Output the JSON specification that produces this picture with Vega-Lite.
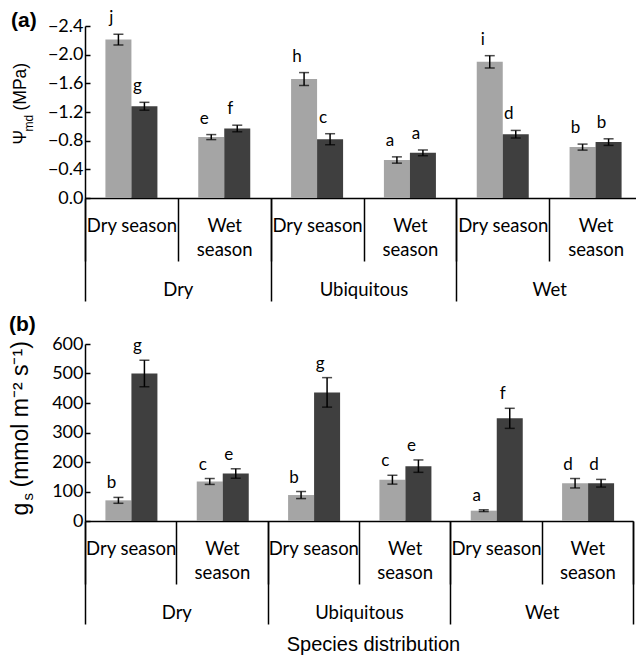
{
  "$schema": "https://vega.github.io/schema/vega-lite/v6.json",
  "padding": {"left": 8, "top": 9, "right": 0, "bottom": 0},
  "background": "white",
  "config": {
    "view": {"stroke": null},
    "axis": {"grid": false, "labelColor": "black", "titleColor": "black", "domainColor": "black", "tickColor": "black"}
  },
  "datasets": {
    "psi": [
      {"dist": "Dry", "season": "Dry season", "cell": "Dry/Dry season", "series": "S1", "mean": -2.21, "low": -2.285, "high": -2.135, "letter": "j"},
      {"dist": "Dry", "season": "Dry season", "cell": "Dry/Dry season", "series": "S2", "mean": -1.28, "low": -1.335, "high": -1.225, "letter": "g"},
      {"dist": "Dry", "season": "Wet season", "cell": "Dry/Wet season", "series": "S1", "mean": -0.85, "low": -0.885, "high": -0.815, "letter": "e"},
      {"dist": "Dry", "season": "Wet season", "cell": "Dry/Wet season", "series": "S2", "mean": -0.97, "low": -1.016, "high": -0.924, "letter": "f"},
      {"dist": "Ubiquitous", "season": "Dry season", "cell": "Ubiquitous/Dry season", "series": "S1", "mean": -1.66, "low": -1.75, "high": -1.57, "letter": "h"},
      {"dist": "Ubiquitous", "season": "Dry season", "cell": "Ubiquitous/Dry season", "series": "S2", "mean": -0.82, "low": -0.897, "high": -0.743, "letter": "c"},
      {"dist": "Ubiquitous", "season": "Wet season", "cell": "Ubiquitous/Wet season", "series": "S1", "mean": -0.53, "low": -0.574, "high": -0.486, "letter": "a"},
      {"dist": "Ubiquitous", "season": "Wet season", "cell": "Ubiquitous/Wet season", "series": "S2", "mean": -0.63, "low": -0.67, "high": -0.59, "letter": "a"},
      {"dist": "Wet", "season": "Dry season", "cell": "Wet/Dry season", "series": "S1", "mean": -1.9, "low": -1.986, "high": -1.814, "letter": "i"},
      {"dist": "Wet", "season": "Dry season", "cell": "Wet/Dry season", "series": "S2", "mean": -0.89, "low": -0.943, "high": -0.837, "letter": "d"},
      {"dist": "Wet", "season": "Wet season", "cell": "Wet/Wet season", "series": "S1", "mean": -0.71, "low": -0.752, "high": -0.668, "letter": "b"},
      {"dist": "Wet", "season": "Wet season", "cell": "Wet/Wet season", "series": "S2", "mean": -0.78, "low": -0.826, "high": -0.734, "letter": "b"}
    ],
    "gs": [
      {"dist": "Dry", "season": "Dry season", "cell": "Dry/Dry season", "series": "S1", "mean": 70, "low": 60, "high": 80, "letter": "b"},
      {"dist": "Dry", "season": "Dry season", "cell": "Dry/Dry season", "series": "S2", "mean": 500, "low": 455, "high": 545, "letter": "g"},
      {"dist": "Dry", "season": "Wet season", "cell": "Dry/Wet season", "series": "S1", "mean": 134, "low": 124, "high": 144, "letter": "c"},
      {"dist": "Dry", "season": "Wet season", "cell": "Dry/Wet season", "series": "S2", "mean": 161, "low": 145, "high": 177, "letter": "e"},
      {"dist": "Ubiquitous", "season": "Dry season", "cell": "Ubiquitous/Dry season", "series": "S1", "mean": 88, "low": 76, "high": 100, "letter": "b"},
      {"dist": "Ubiquitous", "season": "Dry season", "cell": "Ubiquitous/Dry season", "series": "S2", "mean": 436, "low": 386, "high": 486, "letter": "g"},
      {"dist": "Ubiquitous", "season": "Wet season", "cell": "Ubiquitous/Wet season", "series": "S1", "mean": 140, "low": 125, "high": 155, "letter": "c"},
      {"dist": "Ubiquitous", "season": "Wet season", "cell": "Ubiquitous/Wet season", "series": "S2", "mean": 186, "low": 165, "high": 207, "letter": "e"},
      {"dist": "Wet", "season": "Dry season", "cell": "Wet/Dry season", "series": "S1", "mean": 35, "low": 32, "high": 38, "letter": "a"},
      {"dist": "Wet", "season": "Dry season", "cell": "Wet/Dry season", "series": "S2", "mean": 348, "low": 314, "high": 382, "letter": "f"},
      {"dist": "Wet", "season": "Wet season", "cell": "Wet/Wet season", "series": "S1", "mean": 128, "low": 112, "high": 144, "letter": "d"},
      {"dist": "Wet", "season": "Wet season", "cell": "Wet/Wet season", "series": "S2", "mean": 128, "low": 115, "high": 141, "letter": "d"}
    ]
  },
  "spacing": 12,
  "vconcat": [
    {
      "title": {"text": "(a)", "anchor": "start", "frame": "bounds", "font": "Liberation Sans", "fontSize": 21, "fontWeight": "bold", "color": "black", "offset": -22},
      "width": 557,
      "height": 172,
      "data": {"name": "psi"},
      "layer": [
        {
          "encoding": {
            "x": {
              "field": "cell", "type": "nominal", "sort": null,
              "scale": {"paddingInner": 0, "paddingOuter": 0},
              "axis": {
                "title": null, "domainWidth": 1.5, "tickBand": "extent", "tickSize": 63, "tickWidth": 1.5,
                "labelExpr": "split(datum.label, '/')[1] == 'Wet season' ? ['Wet', 'season'] : split(datum.label, '/')[1]",
                "labelAngle": 0, "labelBaseline": "top", "labelPadding": -45, "labelFont": "Lato", "labelFontSize": 18.5,
                "labelLineHeight": 24, "labelOverlap": false, "labelLimit": 0
              }
            },
            "xOffset": {"field": "series", "type": "nominal", "sort": null, "scale": {"paddingInner": 0, "paddingOuter": 0.785}}
          },
          "layer": [
            {
              "mark": {"type": "bar"},
              "encoding": {
                "y": {
                  "field": "mean", "type": "quantitative",
                  "scale": {"domain": [-2.4, 0], "reverse": true, "nice": false, "zero": true},
                  "axis": {
                    "values": [-2.4, -2, -1.6, -1.2, -0.8, -0.4, 0], "format": ".1f",
                    "domainWidth": 1.5, "tickSize": -5, "tickWidth": 1.5, "labelPadding": 7,
                    "labelFont": "Lato", "labelFontSize": 18,
                    "title": "(MPa)", "titleFont": "Liberation Sans", "titleFontSize": 17.5, "titleFontWeight": "normal",
                    "titleAngle": 270, "titleAlign": "left", "titleBaseline": "alphabetic", "titleX": -60, "titleY": 84
                  }
                },
                "color": {"field": "series", "type": "nominal", "sort": null, "scale": {"range": ["#a5a5a5", "#3f3f3f"]}, "legend": null}
              }
            },
            {
              "mark": {"type": "rule", "color": "black", "strokeWidth": 1.5},
              "encoding": {
                "y": {
                  "field": "low", "type": "quantitative",
                  "scale": {"domain": [-2.4, 0], "reverse": true, "nice": false, "zero": true},
                  "axis": {
                    "orient": "left", "labels": false, "ticks": false, "domain": false,
                    "title": "Ψ", "titleFont": "Liberation Sans", "titleFontSize": 17.5, "titleFontWeight": "normal",
                    "titleAngle": 270, "titleAlign": "left", "titleBaseline": "alphabetic", "titleX": -60, "titleY": 118
                  }
                },
                "y2": {"field": "high"}
              }
            },
            {
              "mark": {"type": "tick", "color": "black", "size": 10, "thickness": 1.5},
              "encoding": {
                "y": {"field": "low", "type": "quantitative", "scale": {"domain": [-2.4, 0], "reverse": true, "nice": false, "zero": true}, "axis": null}
              }
            },
            {
              "mark": {"type": "tick", "color": "black", "size": 10, "thickness": 1.5},
              "encoding": {
                "y": {"field": "high", "type": "quantitative", "scale": {"domain": [-2.4, 0], "reverse": true, "nice": false, "zero": true}, "axis": null}
              }
            },
            {
              "mark": {"type": "text", "font": "Lato", "fontSize": 17, "color": "black", "baseline": "alphabetic", "dx": -7, "dy": -11},
              "encoding": {
                "y": {
                  "field": "low", "type": "quantitative",
                  "scale": {"domain": [-2.4, 0], "reverse": true, "nice": false, "zero": true},
                  "axis": {
                    "orient": "left", "labels": false, "ticks": false, "domain": false,
                    "title": "md", "titleFont": "Liberation Sans", "titleFontSize": 12, "titleFontWeight": "normal",
                    "titleAngle": 270, "titleAlign": "left", "titleBaseline": "alphabetic", "titleX": -53, "titleY": 105
                  }
                },
                "text": {"field": "letter"}
              }
            }
          ],
          "resolve": {"axis": {"y": "independent"}}
        },
        {
          "mark": {"type": "rect", "opacity": 0},
          "encoding": {
            "x": {
              "field": "dist", "type": "nominal", "sort": null,
              "scale": {"paddingInner": 0, "paddingOuter": 0},
              "axis": {
                "orient": "bottom", "title": null, "domain": false, "tickBand": "extent", "tickSize": 103, "tickWidth": 1.5,
                "labelAngle": 0, "labelBaseline": "top", "labelPadding": -21, "labelFont": "Lato", "labelFontSize": 18.5
              }
            }
          }
        }
      ],
      "resolve": {"scale": {"x": "independent"}, "axis": {"x": "independent", "y": "independent"}}
    },
    {
      "title": {"text": "(b)", "anchor": "start", "frame": "bounds", "font": "Liberation Sans", "fontSize": 21, "fontWeight": "bold", "color": "black", "offset": 0},
      "width": 548,
      "height": 177,
      "data": {"name": "gs"},
      "layer": [
        {
          "encoding": {
            "x": {
              "field": "cell", "type": "nominal", "sort": null,
              "scale": {"paddingInner": 0, "paddingOuter": 0},
              "axis": {
                "title": null, "domainWidth": 1.5, "tickBand": "extent", "tickSize": 63, "tickWidth": 1.5,
                "labelExpr": "split(datum.label, '/')[1] == 'Wet season' ? ['Wet', 'season'] : split(datum.label, '/')[1]",
                "labelAngle": 0, "labelBaseline": "top", "labelPadding": -45, "labelFont": "Lato", "labelFontSize": 18.5,
                "labelLineHeight": 24, "labelOverlap": false, "labelLimit": 0
              }
            },
            "xOffset": {"field": "series", "type": "nominal", "sort": null, "scale": {"paddingInner": 0, "paddingOuter": 0.785}}
          },
          "layer": [
            {
              "mark": {"type": "bar"},
              "encoding": {
                "y": {
                  "field": "mean", "type": "quantitative",
                  "scale": {"domain": [0, 600], "nice": false},
                  "axis": {
                    "values": [0, 100, 200, 300, 400, 500, 600],
                    "domainWidth": 1.5, "tickSize": -5, "tickWidth": 1.5, "labelPadding": 7,
                    "labelFont": "Lato", "labelFontSize": 18,
                    "title": "(mmol m⁻² s⁻¹)", "titleFont": "Liberation Sans", "titleFontSize": 23, "titleFontWeight": "normal",
                    "titleAngle": 270, "titleAlign": "left", "titleBaseline": "alphabetic", "titleX": -58, "titleY": 143
                  }
                },
                "color": {"field": "series", "type": "nominal", "sort": null, "scale": {"range": ["#a5a5a5", "#3f3f3f"]}, "legend": null}
              }
            },
            {
              "mark": {"type": "rule", "color": "black", "strokeWidth": 1.5},
              "encoding": {
                "y": {
                  "field": "low", "type": "quantitative",
                  "scale": {"domain": [0, 600], "nice": false},
                  "axis": {
                    "orient": "left", "labels": false, "ticks": false, "domain": false,
                    "title": "g", "titleFont": "Liberation Sans", "titleFontSize": 23, "titleFontWeight": "normal",
                    "titleAngle": 270, "titleAlign": "left", "titleBaseline": "alphabetic", "titleX": -58, "titleY": 171
                  }
                },
                "y2": {"field": "high"}
              }
            },
            {
              "mark": {"type": "tick", "color": "black", "size": 10, "thickness": 1.5},
              "encoding": {
                "y": {"field": "low", "type": "quantitative", "scale": {"domain": [0, 600], "nice": false}, "axis": null}
              }
            },
            {
              "mark": {"type": "tick", "color": "black", "size": 10, "thickness": 1.5},
              "encoding": {
                "y": {"field": "high", "type": "quantitative", "scale": {"domain": [0, 600], "nice": false}, "axis": null}
              }
            },
            {
              "mark": {"type": "text", "font": "Lato", "fontSize": 17, "color": "black", "baseline": "alphabetic", "dx": -7, "dy": -9},
              "encoding": {
                "y": {
                  "field": "high", "type": "quantitative",
                  "scale": {"domain": [0, 600], "nice": false},
                  "axis": {
                    "orient": "left", "labels": false, "ticks": false, "domain": false,
                    "title": "s", "titleFont": "Liberation Sans", "titleFontSize": 15, "titleFontWeight": "normal",
                    "titleAngle": 270, "titleAlign": "left", "titleBaseline": "alphabetic", "titleX": -53, "titleY": 156
                  }
                },
                "text": {"field": "letter"}
              }
            }
          ],
          "resolve": {"axis": {"y": "independent"}}
        },
        {
          "mark": {"type": "rect", "opacity": 0},
          "encoding": {
            "x": {
              "field": "dist", "type": "nominal", "sort": null,
              "scale": {"paddingInner": 0, "paddingOuter": 0},
              "axis": {
                "orient": "bottom", "domain": false, "tickBand": "extent", "tickSize": 103, "tickWidth": 1.5,
                "labelAngle": 0, "labelBaseline": "top", "labelPadding": -21, "labelFont": "Lato", "labelFontSize": 18.5,
                "title": "Species distribution", "titleFont": "Liberation Sans", "titleFontSize": 20, "titleFontWeight": "normal",
                "titlePadding": 10, "titleX": 288, "titleAlign": "center", "titleBaseline": "top"
              }
            }
          }
        }
      ],
      "resolve": {"scale": {"x": "independent"}, "axis": {"x": "independent", "y": "independent"}}
    }
  ]
}
